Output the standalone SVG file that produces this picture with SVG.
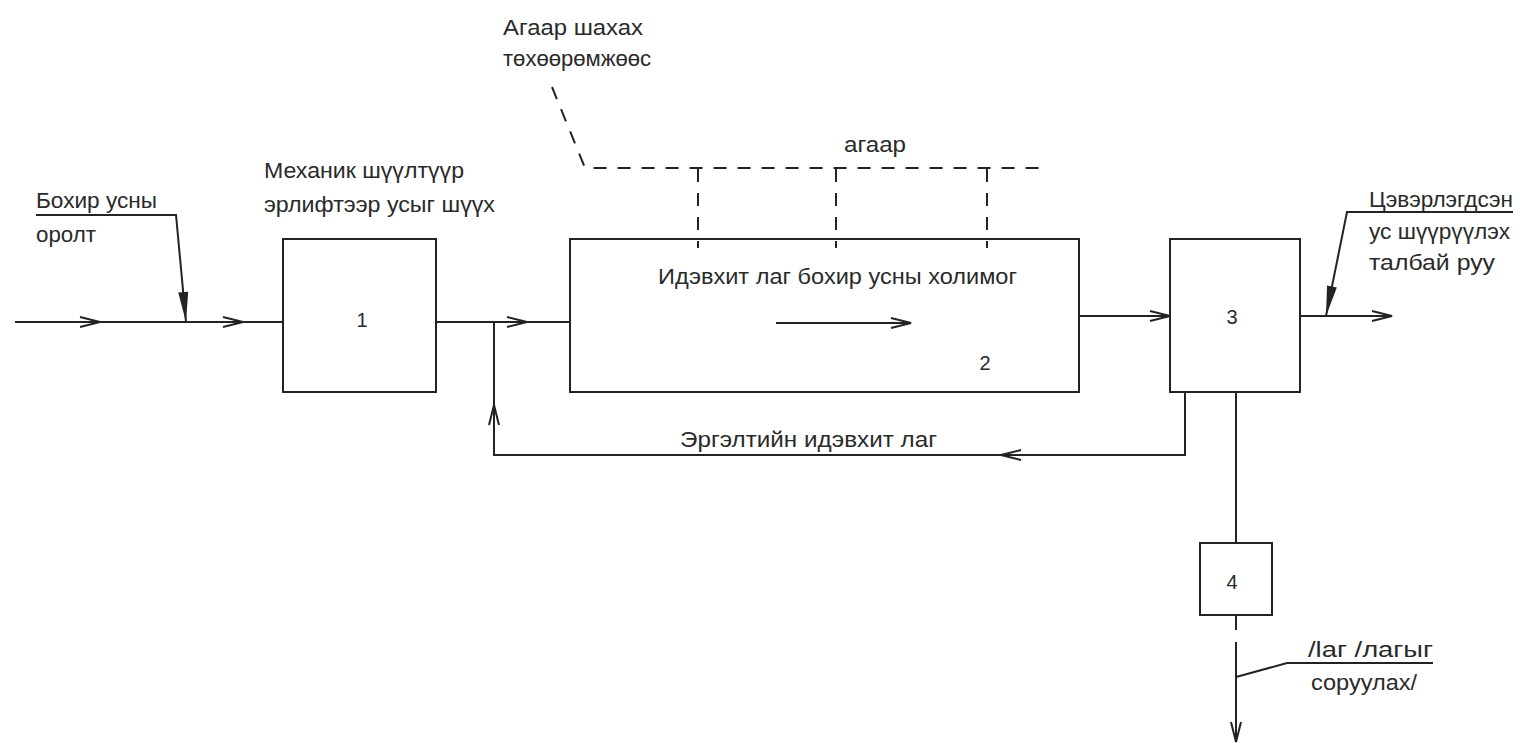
<svg xmlns="http://www.w3.org/2000/svg" width="1520" height="743" viewBox="0 0 1520 743">
<style>
.ln{fill:none;stroke:#232323;stroke-width:2}
.ds{fill:none;stroke:#232323;stroke-width:2;stroke-dasharray:13,11}
.bx{fill:none;stroke:#232323;stroke-width:2}
text{font-family:"Liberation Sans","DejaVu Sans",sans-serif;font-size:22px;fill:#2a2a2a}
.num{font-size:20px}
</style>
<defs>
<marker id="ch" viewBox="-22 -7 24 14" refX="0" refY="0" markerWidth="24" markerHeight="14" markerUnits="userSpaceOnUse" orient="auto">
<path d="M-20,-5 L0,0 L-20,5" fill="none" stroke="#232323" stroke-width="2"/>
</marker>
<marker id="tri" viewBox="-32 -7 34 14" refX="0" refY="0" markerWidth="34" markerHeight="14" markerUnits="userSpaceOnUse" orient="auto">
<path d="M-30,-5 L0,0 L-30,5 Z" fill="#232323"/>
</marker>
</defs>
<rect width="1520" height="743" fill="#fff"/>

<g id="connectors">
<line class="ln" x1="15" y1="322" x2="100" y2="322" marker-end="url(#ch)"/>
<line class="ln" x1="100" y1="322" x2="243" y2="322" marker-end="url(#ch)"/>
<line class="ln" x1="243" y1="322" x2="283" y2="322"/>
<line class="ln" x1="436" y1="322" x2="527" y2="322" marker-end="url(#ch)"/>
<line class="ln" x1="527" y1="322" x2="570" y2="322"/>
<line class="ln" x1="1079" y1="316" x2="1170" y2="316" marker-end="url(#ch)"/>
<line class="ln" x1="1300" y1="316" x2="1392" y2="316" marker-end="url(#ch)"/>
<polyline class="ln" points="1185,392 1185,455 1001,455"/>
<line class="ln" x1="1185" y1="455" x2="1001" y2="455" marker-end="url(#ch)"/>
<polyline class="ln" points="1001,455 494,455 494,405"/>
<line class="ln" x1="494" y1="455" x2="494" y2="405" marker-end="url(#ch)"/>
<line class="ln" x1="494" y1="405" x2="494" y2="322"/>
<line class="ln" x1="1236" y1="392" x2="1236" y2="543"/>
<line class="ln" x1="1236" y1="615" x2="1236" y2="630"/>
<line class="ln" x1="1236" y1="642" x2="1236" y2="742" marker-end="url(#ch)"/>
<polyline class="ds" points="552,87 585,168 1042,168"/>
<line class="ds" x1="698" y1="169" x2="698" y2="248"/>
<line class="ds" x1="836" y1="169" x2="836" y2="248"/>
<line class="ds" x1="987" y1="169" x2="987" y2="248"/>
<polyline class="ln" points="36,215 176,215 186,322" marker-end="url(#tri)"/>
<polyline class="ln" points="1513,212 1347,212 1326,316" marker-end="url(#tri)"/>
<polyline class="ln" points="1236,677 1287,663 1433,663"/>
</g>

<g id="node1">
<rect class="bx" x="283" y="239" width="153" height="153"/>
<text class="num" x="362" y="327" text-anchor="middle">1</text>
</g>
<g id="node2">
<rect class="bx" x="570" y="239" width="509" height="153"/>
<text x="658" y="284" textLength="359" lengthAdjust="spacingAndGlyphs">Идэвхит лаг бохир усны холимог</text>
<line class="ln" x1="776" y1="323" x2="911" y2="323" marker-end="url(#ch)"/>
<text class="num" x="985" y="370" text-anchor="middle">2</text>
</g>
<g id="node3">
<rect class="bx" x="1170" y="239" width="130" height="153"/>
<text class="num" x="1232" y="324" text-anchor="middle">3</text>
</g>
<g id="node4">
<rect class="bx" x="1200" y="543" width="72" height="72"/>
<text class="num" x="1232" y="589" text-anchor="middle">4</text>
</g>

<g id="labels">
<text x="36" y="208" textLength="121" lengthAdjust="spacingAndGlyphs">Бохир усны</text>
<text x="36" y="242" textLength="60" lengthAdjust="spacingAndGlyphs">оролт</text>
<text x="264" y="178" textLength="200" lengthAdjust="spacingAndGlyphs">Механик шүүлтүүр</text>
<text x="264" y="212" textLength="231" lengthAdjust="spacingAndGlyphs">эрлифтээр усыг шүүх</text>
<text x="503" y="35" textLength="140" lengthAdjust="spacingAndGlyphs">Агаар шахах</text>
<text x="503" y="66" textLength="148" lengthAdjust="spacingAndGlyphs">төхөөрөмжөөс</text>
<text x="844" y="152" textLength="62" lengthAdjust="spacingAndGlyphs">агаар</text>
<text x="680" y="447" textLength="257" lengthAdjust="spacingAndGlyphs">Эргэлтийн идэвхит лаг</text>
<text x="1369" y="207" textLength="144" lengthAdjust="spacingAndGlyphs">Цэвэрлэгдсэн</text>
<text x="1369" y="239" textLength="141" lengthAdjust="spacingAndGlyphs">ус шүүрүүлэх</text>
<text x="1369" y="270" textLength="126" lengthAdjust="spacingAndGlyphs">талбай руу</text>
<text x="1308" y="657" textLength="125" lengthAdjust="spacingAndGlyphs">/lаг /лагыг</text>
<text x="1311" y="690" textLength="106" lengthAdjust="spacingAndGlyphs">соруулах/</text>
</g>
</svg>
